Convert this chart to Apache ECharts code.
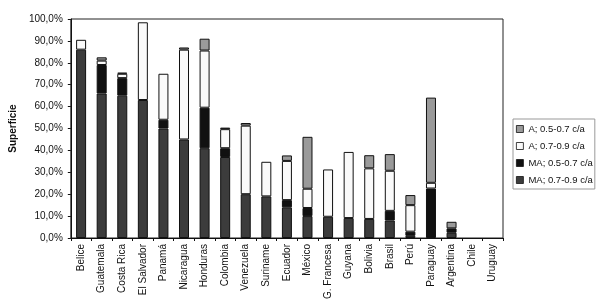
<!DOCTYPE html>
<html lang="es">
<head>
  <meta charset="UTF-8">
  <title>Superficie</title>
  <style>
    * { margin:0; padding:0; }
    body { background:#fff; }
    #chart { width:600px; height:303px; }
  </style>
  <script src="https://cdn.jsdelivr.net/npm/echarts@6/dist/echarts.min.js"></script>
</head>
<body>
  <div id="chart"></div>
  <script>
    // categorías (países)
    const paises = ['Belice','Guatemala','Costa Rica','El Salvador','Panamá','Nicaragua','Honduras','Colombia','Venezuela','Suriname','Ecuador','México','G. Francesa','Guyana','Bolivia','Brasil','Perú','Paraguay','Argentina','Chile','Uruguay'];

    // valores en %, de abajo hacia arriba en la pila
    const ma0709 = [86, 66, 65, 63, 50, 45, 41, 37, 20, 19, 14, 10, 9.7, 9.1, 8.7, 8, 1, 0, 2.4, 0, 0];
    const ma0507 = [0, 13, 8, 0, 4, 0, 18.5, 4, 0, 0, 3.3, 3.7, 0, 0, 0, 4.4, 1.9, 22.6, 2, 0, 0];
    const a0709  = [4.5, 2, 2, 35.5, 21, 41, 26.1, 8.7, 31.3, 15.8, 17.9, 8.8, 21.6, 30.2, 23.1, 18.3, 12.1, 2.6, 0, 0, 0];
    const a0507  = [0, 1.5, 0.5, 0, 0, 1, 5.4, 0.7, 1.2, 0, 2.5, 23.7, 0, 0, 6, 7.6, 4.6, 38.9, 3, 0, 0];

    const nombres = ['A; 0.5-0.7 c/a', 'A; 0.7-0.9 c/a', 'MA; 0.5-0.7 c/a', 'MA; 0.7-0.9 c/a'];

    const chart = echarts.init(document.getElementById('chart'));

    function serie(name, data, color) {
      return {
        name: name,
        type: 'bar',
        stack: 'total',
        // los ceros no se dibujan (sin borde suelto)
        data: data.map(v => v === 0 ? '-' : v),
        barWidth: 10,
        itemStyle: { color: color, borderColor: '#111', borderWidth: 1 }
      };
    }

    chart.setOption({
      animation: false,
      textStyle: { fontFamily: 'Liberation Sans, Arial, sans-serif' },
      grid: { left: 66, right: 97, top: 19, bottom: 65, show: true, borderColor: '#222', borderWidth: 1 },
      legend: {
        data: nombres,
        orient: 'vertical',
        left: 513,
        top: 119,
        itemWidth: 7,
        itemHeight: 7,
        itemGap: 7,
        itemTextGap: 2,
        padding: [5, 2, 4, 3],
        borderColor: '#999',
        borderWidth: 1,
        textStyle: { fontSize: 9.5, color: '#111' },
        icon: 'rect',
        itemStyle: { borderColor: '#111', borderWidth: 0.8 }
      },
      xAxis: {
        type: 'category',
        data: paises,
        axisLine: { lineStyle: { color: '#111' } },
        axisTick: { show: true, length: 3, lineStyle: { color: '#111' } },
        axisLabel: { rotate: 90, fontSize: 10, color: '#111', margin: 6, interval: 0 }
      },
      yAxis: {
        type: 'value',
        min: 0,
        max: 100,
        interval: 10,
        name: 'Superficie',
        nameLocation: 'middle',
        nameGap: 48,
        nameTextStyle: { fontSize: 10, fontWeight: 'bold', color: '#111' },
        splitLine: { show: false },
        axisLine: { show: true, lineStyle: { color: '#111' } },
        axisTick: { show: true, length: 3, lineStyle: { color: '#111' } },
        axisLabel: { fontSize: 10, color: '#111', formatter: v => v.toFixed(1).replace('.', ',') + '%' }
      },
      series: [
        serie(nombres[3], ma0709, '#3c3c3c'),
        serie(nombres[2], ma0507, '#111111'),
        serie(nombres[1], a0709, '#fafafa'),
        serie(nombres[0], a0507, '#9a9a9a')
      ]
    });
  </script>
</body>
</html>
